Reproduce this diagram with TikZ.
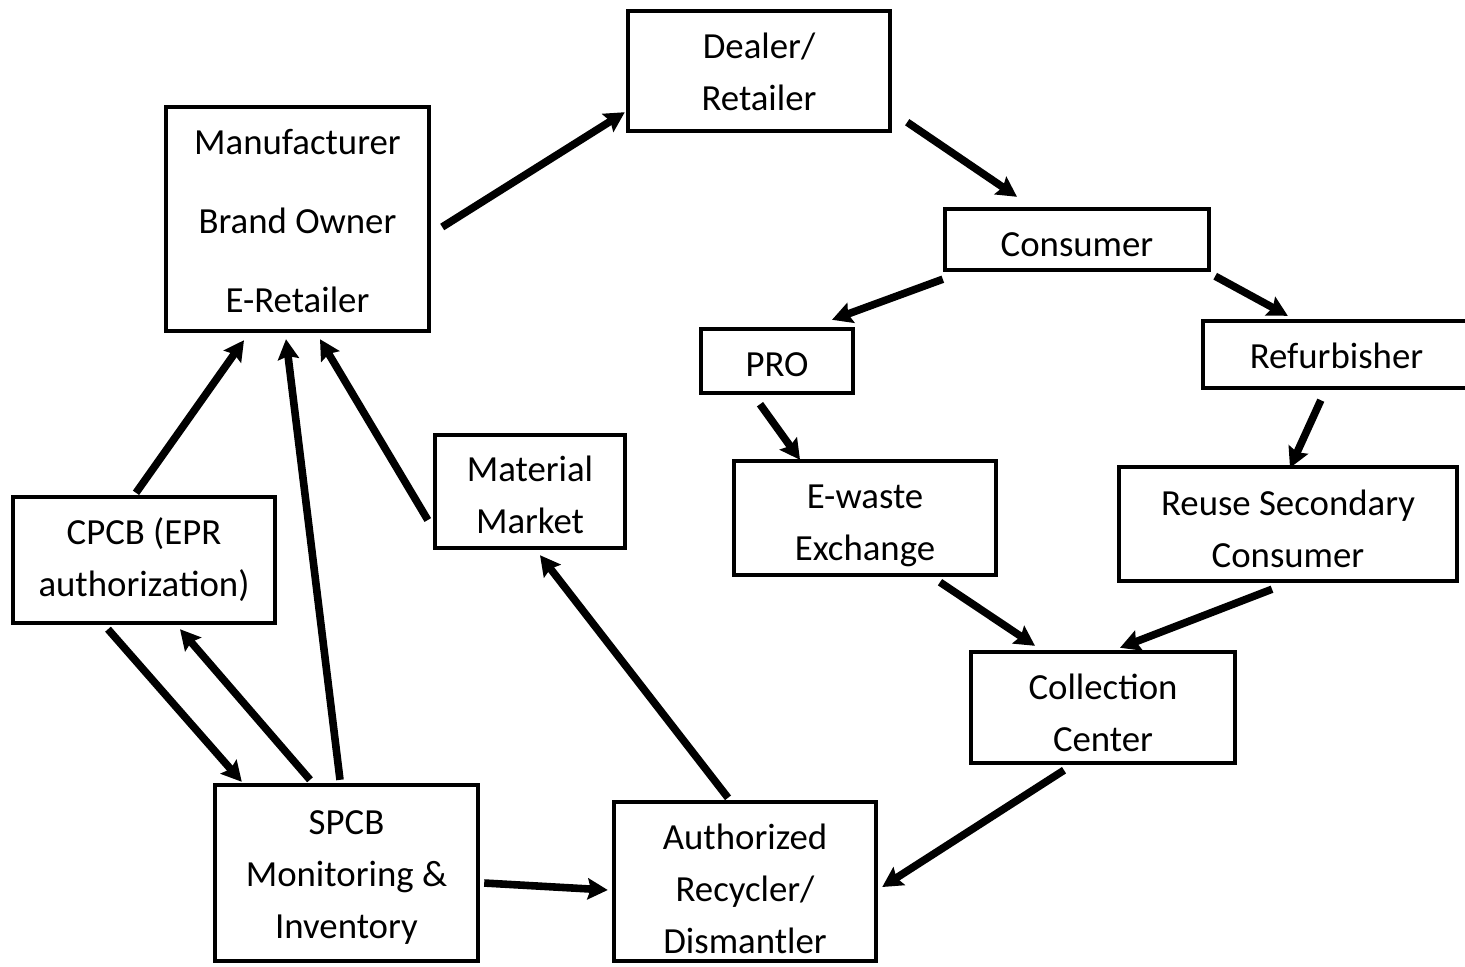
\documentclass[tikz,border=0pt]{standalone}
\usepackage{fontspec}
\setmainfont{Carlito}
\usetikzlibrary{arrows.meta,calc}

\begin{document}
\begin{tikzpicture}[x=0.5pt,y=-0.5pt,
    box/.style={draw, line width=2.2pt, align=center, inner sep=0pt,
        text depth=0pt, font=\fontsize{18.4}{26}\selectfont},
    arr/.style={line width=3.8pt, -{Stealth[length=10pt,width=10.5pt,inset=1.5pt]}}]
    \useasboundingbox (0,0) rectangle (1465,966);

    % upper chain
    \node[box, text height=93.5pt, minimum width=131.5pt, minimum height=112pt,
        font=\fontsize{18.4}{39.5}\selectfont] (man) at (297.5,219)
        {Manufacturer\\Brand Owner\\E-Retailer};
    \node[box, text height=39.5pt, minimum width=131pt, minimum height=60pt] (dealer) at (759,71) {Dealer/\\Retailer};
    \node[box, text height=17pt, minimum width=132pt, minimum height=30.5pt] (cons) at (1077,239.5) {Consumer};

    % the two branches below the consumer
    \node[box, text height=15.5pt, minimum width=76pt, minimum height=32pt] (pro) at (777,361) {PRO};
    \node[box, text height=14pt, minimum width=133.5pt, minimum height=33.5pt] (refurb) at (1336.5,354.5) {Refurbisher};
    \node[box, text height=42.5pt, minimum width=131pt, minimum height=57pt] (ewaste) at (865,518) {E-waste\\Exchange};
    \node[box, text height=43.5pt, minimum width=169pt, minimum height=57pt] (reuse) at (1288,524) {Reuse Secondary\\Consumer};
    \node[box, text height=44pt, minimum width=132pt, minimum height=55.5pt] (coll) at (1103,707.5) {Collection\\Center};

    % recycling and regulators
    \node[box, text height=72pt, minimum width=131pt, minimum height=79.5pt] (auth) at (745,881.5) {Authorized\\Recycler/\\Dismantler};
    \node[box, text height=42pt, minimum width=95pt, minimum height=56.5pt] (market) at (530,491.5) {Material\\Market};
    \node[box, text height=65.5pt, minimum width=131.5pt, minimum height=88pt] (spcb) at (346.5,873) {SPCB\\Monitoring \&\\Inventory};
    \node[box, text height=36.5pt, minimum width=131pt, minimum height=63pt] (cpcb) at (144,560) {CPCB (EPR\\authorization)};

    % product flow
    \draw[arr] ($(man.east)+(11,8)$) -- ($(dealer.south west)+(-1,-21)$);
    \draw[arr] ($(dealer.south east)+(15,-11)$) -- ($(cons.north)+(-60,-10)$);
    \draw[arr] ($(cons.south west)+(0,7)$) -- ($(pro.north)+(55,-7)$);
    \draw[arr] ($(cons.south east)+(4,4)$) -- ($(refurb.north west)+(87,-3)$);
    \draw[arr] ($(pro.south)+(-17,9)$) -- ($(ewaste.north)+(-65,1)$);
    \draw[arr] ($(refurb.south west)+(120,10)$) -- ($(reuse.north)+(2,3)$);
    \draw[arr] ($(ewaste.south)+(75,5)$) -- ($(coll.north)+(-68,-4)$);
    \draw[arr] ($(reuse.south)+(-16,6)$) -- ($(coll.north)+(17,-2)$);
    \draw[arr] ($(coll.south)+(-39,5)$) -- ($(auth.east)+(4,5.5)$);
    \draw[arr] ($(auth.north)+(-17,-2)$) -- ($(market.south)+(10,5)$);
    \draw[arr] ($(market.west)+(-5,28.5)$) -- ($(man.south)+(22.5,6)$);

    % regulation
    \draw[arr] ($(spcb.north)+(-6.5,-3)$) -- ($(man.south)+(-11.5,6)$);
    \draw[arr] ($(cpcb.north)+(-8,-2)$) -- ($(man.south)+(-53.5,7)$);
    \draw[arr] ($(cpcb.south)+(-36,4)$) -- ($(spcb.north west)+(29,-1)$);
    \draw[arr] ($(spcb.north)+(-36.5,-3)$) -- ($(cpcb.south)+(36,4)$);
    \draw[arr] ($(spcb.east)+(4,10)$) -- ($(auth.west)+(-4,8.5)$);
\end{tikzpicture}
\end{document}
